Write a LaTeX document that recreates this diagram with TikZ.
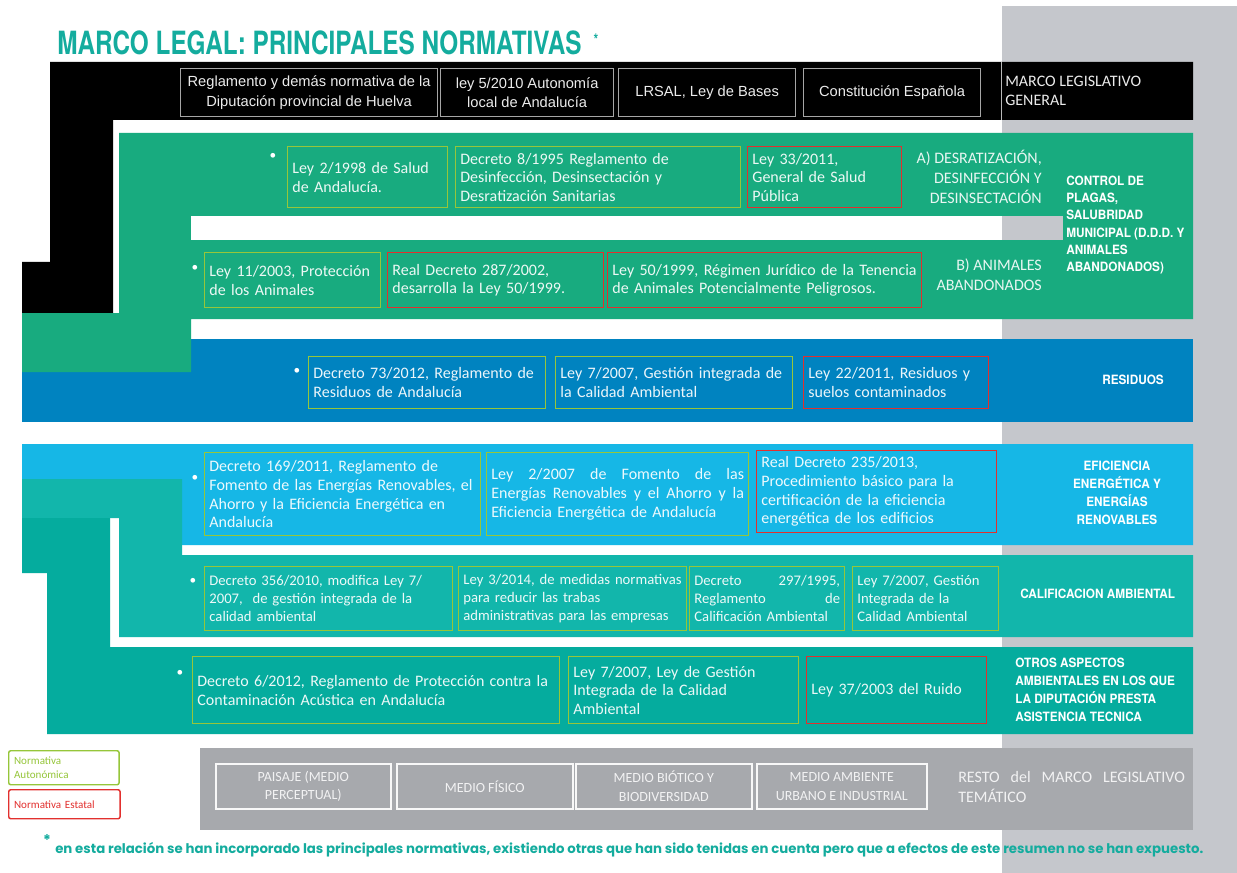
\documentclass[tikz,border=0pt]{standalone}
\usepackage{fontspec}
\usepackage{graphicx}
\setmainfont{Carlito}
\newfontfamily\arialf{Liberation Sans}
\newfontfamily\labf{TeX Gyre Heros}[FakeStretch=0.92]
\newfontfamily\titlef{TeX Gyre Heros}[FakeStretch=0.76]
\newfontfamily\popf{Poppins}

\definecolor{tealT}{RGB}{20,172,158}
\definecolor{greyCol}{RGB}{197,199,204}
\definecolor{greyBand}{RGB}{167,169,173}
\definecolor{plagaG}{RGB}{24,171,127}
\definecolor{resB}{RGB}{0,131,192}
\definecolor{efiB}{RGB}{22,183,230}
\definecolor{calT}{RGB}{18,182,171}
\definecolor{otrT}{RGB}{5,172,158}
\definecolor{limeC}{RGB}{150,198,58}
\definecolor{redC}{RGB}{226,48,46}

\newcommand{\bl}[1]{\mbox{#1}}
\newcommand{\jl}[1]{\makebox[\lbT][s]{\spaceskip=0.25em plus 1fil\relax#1}}
% left aligned law box: name, x1, y1, x2, y2, style, content
\newcommand{\lbox}[7]{%
  \pgfmathsetlengthmacro{\lbW}{(#4-#2)*0.75pt}%
  \pgfmathsetlengthmacro{\lbH}{(#5-#3)*0.75pt}%
  \pgfmathsetlengthmacro{\lbT}{(#4-#2)*0.75pt-7pt}%
  \node[#6, anchor=north west, minimum width=\lbW, minimum height=\lbH, text width=\lbT, align=left] (#1) at (#2,#3) {#7};}
% centred box
\newcommand{\cbox}[7]{%
  \pgfmathsetlengthmacro{\lbW}{(#4-#2)*0.75pt}%
  \pgfmathsetlengthmacro{\lbH}{(#5-#3)*0.75pt}%
  \node[#6, anchor=north west, minimum width=\lbW, minimum height=\lbH, align=center] (#1) at (#2,#3) {#7};}

\begin{document}
\begin{tikzpicture}[x=0.75pt,y=-0.75pt,
  aut/.style={draw=limeC, line width=1.1pt, text=white, text opacity=0.92, inner xsep=3.5pt, inner ysep=1pt, font=\fontsize{12}{14}\selectfont},
  est/.style={aut, draw=redC},
  calfont/.style={font=\fontsize{11}{13.4}\selectfont},
  blackbox/.style={draw=gray!70, line width=0.9pt, text=gray!15, font=\arialf\fontsize{11}{14.3}\selectfont},
  greybox/.style={draw=white!92!greyBand, line width=1.2pt, text=white!85!greyBand, font=\fontsize{10.5}{14}\selectfont},
  bull/.style={text=white, inner sep=0, font=\fontsize{10}{10}\selectfont},
  lab/.style={text=white, inner sep=0, font=\labf\bfseries\fontsize{9.6}{12.9}\selectfont},
  sublab/.style={text=white, text opacity=0.9, inner sep=0, align=right, font=\fontsize{12}{15}\selectfont},
  legA/.style={draw=limeC, line width=1.1pt, rounded corners=1.5pt, text=limeC, inner xsep=4pt, inner ysep=1pt, font=\fontsize{8.3}{10}\selectfont},
  legE/.style={legA, draw=redC, text=redC}
]
\useasboundingbox (0,0) rectangle (1237,873);
\fill[white] (0,0) rectangle (1237,873);
% grey column
\fill[greyCol] (1002,6) rectangle (1237,873);

% black band (marco general)
\fill[black] (50,62) -- (1193,62) -- (1193,120) -- (113,120) -- (113,313) -- (22,313) -- (22,262) -- (50,262) -- cycle;
\draw[gray!55, line width=0.6pt] (1001,62) -- (1001,120);

% residuos band
\fill[resB] (22,339) rectangle (1193,422);
% control de plagas band
\fill[plagaG] (119,133) -- (1193,133) -- (1193,319) -- (191,319) -- (191,372) -- (22,372) -- (22,313) -- (119,313) -- cycle;
\fill[white] (191,216) rectangle (1002,240);
\fill[greyCol] (1002,216) rectangle (1063,240);

% eficiencia band
\fill[efiB] (22,444) -- (1193,444) -- (1193,545) -- (182,545) -- (182,479) -- (22,479) -- cycle;
% calificacion band
\fill[calT] (22,479) -- (182,479) -- (182,555) -- (1193,555) -- (1193,637) -- (119,637) -- (119,518) -- (22,518) -- cycle;
% otros aspectos band
\fill[otrT] (22,518) -- (110,518) -- (110,647) -- (1193,647) -- (1193,734) -- (47,734) -- (47,573) -- (22,573) -- cycle;
% resto band
\fill[greyBand] (200,748) rectangle (1193,830);

% title
\node[anchor=base west, inner sep=0, text=tealT, font=\titlef\bfseries\fontsize{24}{24}\selectfont] (title) at (57,55) {MARCO LEGAL: PRINCIPALES NORMATIVAS};
\node[text=tealT, inner sep=0, font=\titlef\bfseries\fontsize{12}{12}\selectfont] (tast) at (596,40) {*};

% black band boxes
\cbox{b1}{180}{68}{437}{116}{blackbox}{Reglamento y demás normativa de la\\Diputación provincial de Huelva}
\cbox{b2}{440}{68}{613}{116}{blackbox}{ley 5/2010 Autonomía\\local de Andalucía}
\cbox{b3}{618}{68}{795}{116}{blackbox}{LRSAL, Ley de Bases}
\cbox{b4}{803}{68}{980}{116}{blackbox}{Constitución Española}
\node[anchor=west, inner sep=0, align=left, text=white!92!black, font=\fontsize{12}{14.3}\selectfont] (lgen) at (1005,91) {MARCO LEGISLATIVO\\GENERAL};

% control de plagas row A
\node[bull] (d1) at (273,156) {•};
\lbox{g1}{287}{146}{447}{207}{aut}{\bl{Ley 2/1998 de Salud}\\\bl{de Andalucía.}}
\lbox{g2}{455}{146}{740}{207}{aut}{\bl{Decreto 8/1995 Reglamento de}\\\bl{Desinfección, Desinsectación y}\\\bl{Desratización Sanitarias}}
\lbox{g3}{747}{146}{901}{207}{est}{\bl{Ley 33/2011,}\\\bl{General de Salud}\\\bl{Pública}}
\node[sublab, anchor=east] (la) at (1042,177) {A) DESRATIZACIÓN,\\DESINFECCIÓN Y\\DESINSECTACIÓN};

% control de plagas row B
\node[bull] (d2) at (195,268) {•};
\lbox{g4}{204}{252}{380}{307}{aut}{\bl{Ley 11/2003, Protección}\\\bl{de los Animales}}
\lbox{g5}{387}{252}{603}{307}{est}{\bl{Real Decreto 287/2002,}\\\bl{desarrolla la Ley 50/1999.}}
\lbox{g6}{607}{252}{921}{307}{est}{\bl{Ley 50/1999, Régimen Jurídico de la Tenencia}\\\bl{de Animales Potencialmente Peligrosos.}}
\node[sublab, anchor=east] (lb) at (1042,275) {B) ANIMALES\\ABANDONADOS};
\node[lab, anchor=west, align=left] (lplagas) at (1066,225) {CONTROL DE\\PLAGAS,\\SALUBRIDAD\\MUNICIPAL (D.D.D. Y\\ANIMALES\\ABANDONADOS)};

% residuos
\node[bull] (d3) at (297,371) {•};
\lbox{r1}{308}{356}{545}{408}{aut}{\bl{Decreto 73/2012, Reglamento de}\\\bl{Residuos de Andalucía}}
\lbox{r2}{555}{356}{792}{408}{aut}{\bl{Ley 7/2007, Gestión integrada de}\\\bl{la Calidad Ambiental}}
\lbox{r3}{803}{356}{988}{408}{est}{\bl{Ley 22/2011, Residuos y}\\\bl{suelos contaminados}}
\node[lab] (lres) at (1133,380) {RESIDUOS};

% eficiencia
\node[bull] (d4) at (195,478) {•};
\lbox{e1}{204}{452}{480}{535}{aut}{\bl{Decreto 169/2011, Reglamento de}\\\bl{Fomento de las Energías Renovables, el}\\\bl{Ahorro y la Eficiencia Energética en}\\\bl{Andalucía}}
\lbox{e2}{486}{452}{748}{535}{aut}{\jl{Ley 2/2007 de Fomento de las}\\\jl{Energías Renovables y el Ahorro y la}\\\bl{Eficiencia Energética de Andalucía}}
\lbox{e3}{756}{450}{996}{532}{est}{\bl{Real Decreto 235/2013,}\\\bl{Procedimiento básico para la}\\\bl{certificación de la eficiencia}\\\bl{energética de los edificios}}
\node[lab, align=center, font=\labf\bfseries\fontsize{9.6}{13.5}\selectfont] (lefi) at (1117,493) {EFICIENCIA\\ENERGÉTICA Y\\ENERGÍAS\\RENOVABLES};

% calificacion ambiental
\node[bull] (d5) at (193,581) {•};
\lbox{c1}{204}{566}{452}{630}{aut,calfont}{\bl{Decreto 356/2010, modifica Ley 7/}\\\bl{2007, \ de gestión integrada de la}\\\bl{calidad ambiental}}
\lbox{c2}{458}{566}{686}{630}{aut,calfont}{\bl{Ley 3/2014, de medidas normativas}\\\bl{para reducir las trabas}\\\bl{administrativas para las empresas}}
\lbox{c3}{689}{566}{844}{630}{aut,calfont}{\jl{Decreto 297/1995,}\\\jl{Reglamento de}\\\bl{Calificación Ambiental}}
\lbox{c4}{852}{566}{998}{630}{aut,calfont}{\bl{Ley 7/2007, Gestión}\\\bl{Integrada de la}\\\bl{Calidad Ambiental}}
\node[lab, anchor=west] (lcal) at (1020,594) {CALIFICACION AMBIENTAL};

% otros aspectos
\node[bull] (d6) at (180,673) {•};
\lbox{o1}{192}{656}{559}{723}{aut}{\bl{Decreto 6/2012, Reglamento de Protección contra la}\\\bl{Contaminación Acústica en Andalucía}}
\lbox{o2}{568}{656}{798}{723}{aut}{\bl{Ley 7/2007, Ley de Gestión}\\\bl{Integrada de la Calidad}\\\bl{Ambiental}}
\lbox{o3}{806}{656}{986}{723}{est}{\bl{Ley 37/2003 del Ruido}}
\node[lab, anchor=west, align=left, font=\labf\bfseries\fontsize{9.6}{13.5}\selectfont] (lotr) at (1015,690) {OTROS ASPECTOS\\AMBIENTALES EN LOS QUE\\LA DIPUTACIÓN PRESTA\\ASISTENCIA TECNICA};

% resto del marco legislativo
\cbox{m1}{215}{763}{390}{808}{greybox}{PAISAJE (MEDIO\\PERCEPTUAL)}
\cbox{m2}{396}{763}{572}{808}{greybox}{MEDIO FÍSICO}
\cbox{m3}{575}{763}{751}{808}{greybox}{MEDIO BIÓTICO Y\\BIODIVERSIDAD}
\cbox{m4}{756}{763}{926}{808}{greybox}{MEDIO AMBIENTE\\URBANO E INDUSTRIAL}
\def\lbT{170pt}
\node[anchor=west, inner sep=0, text width=170pt, align=left, text=white!85!greyBand, font=\fontsize{12}{14.3}\selectfont] (lresto) at (958,787) {\jl{RESTO del MARCO LEGISLATIVO}\\\bl{TEMÁTICO}};

% legend
\lbox{legaut}{8}{750}{117}{784}{legA}{\bl{Normativa}\\\bl{Autonómica}}
\lbox{legest}{8}{789}{118}{818}{legE}{\bl{Normativa Estatal}}

% footnote
\node[text=tealT, inner sep=0, font=\popf\bfseries\fontsize{11}{11}\selectfont] (fast) at (47,840) {*};
\node[anchor=base west, inner sep=0, text=tealT] (fnote) at (55,853) {\resizebox{861pt}{!}{\popf\bfseries en esta relación se han incorporado las principales normativas, existiendo otras que han sido tenidas en cuenta pero que a efectos de este resumen no se han expuesto.}};
\end{tikzpicture}
\end{document}
